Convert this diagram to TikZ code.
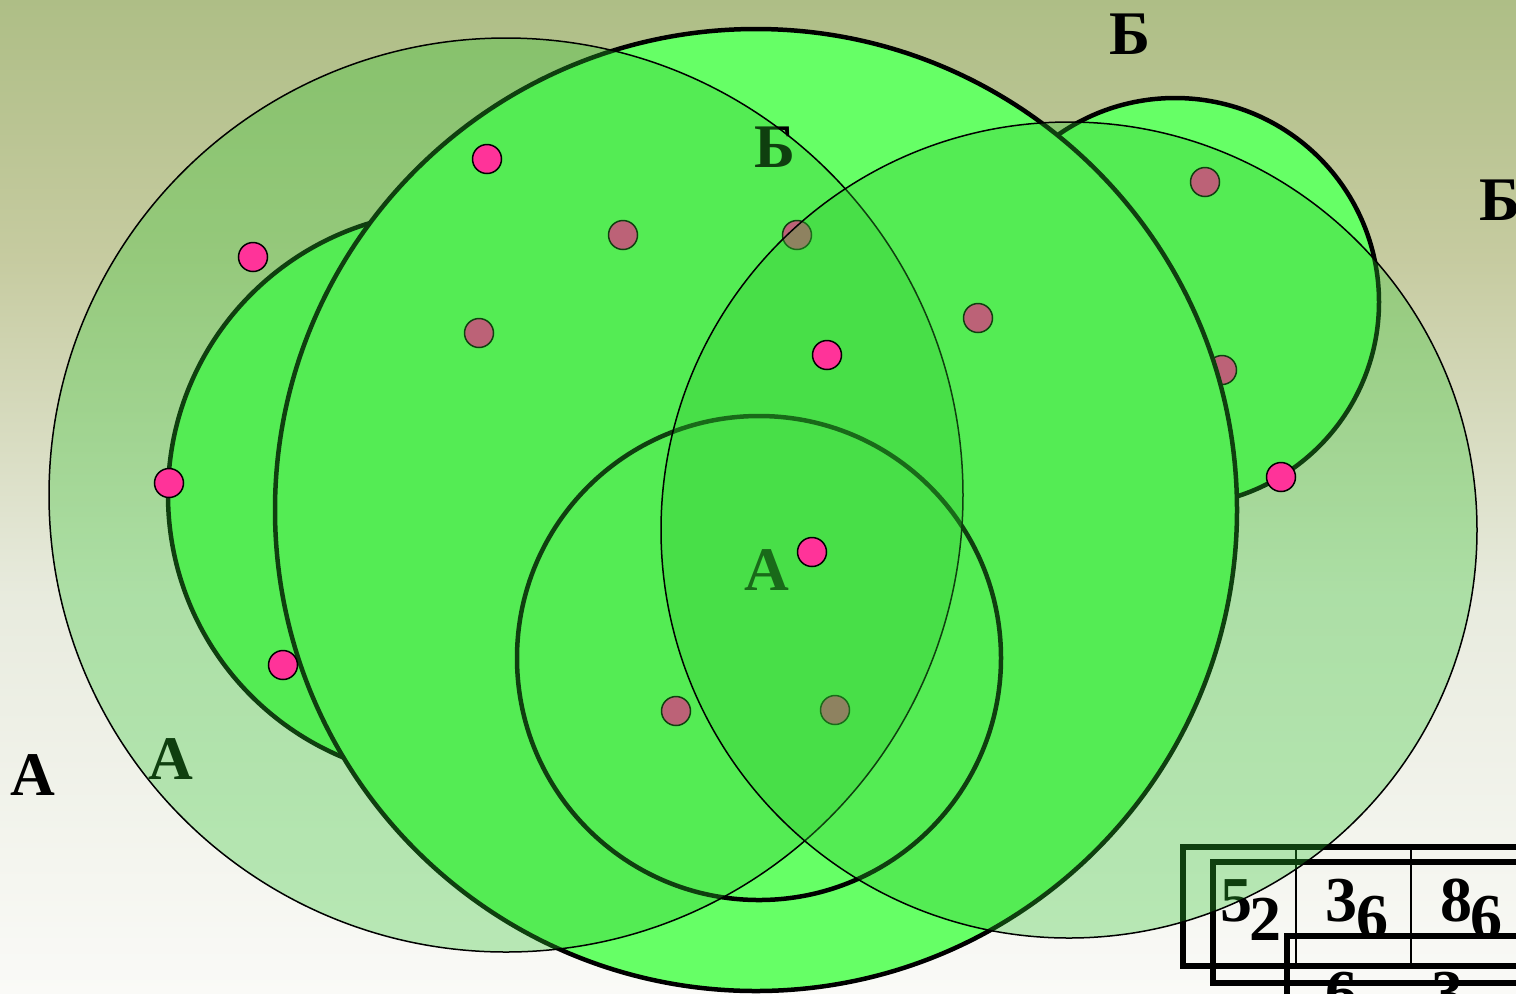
\documentclass[tikz,border=0pt]{standalone}
\usepackage{fontspec}
\setmainfont{Liberation Serif}
\usetikzlibrary{positioning}
\definecolor{bgtop}{RGB}{174,190,134}
\definecolor{bgmid}{RGB}{198,203,160}
\definecolor{bglow}{RGB}{232,235,222}
\definecolor{bgbot}{RGB}{250,250,247}
\definecolor{leafgreen}{RGB}{102,255,102}
\definecolor{veilgreen}{RGB}{48,198,48}
\definecolor{berry}{RGB}{255,51,153}
\pgfdeclareverticalshading{slidebg}{100bp}{color(0bp)=(bgbot); color(25bp)=(bgbot); color(45bp)=(bglow); color(62bp)=(bgmid); color(75bp)=(bgtop); color(100bp)=(bgtop)}
\tikzset{
    disc/.style={
        draw=black, line width=2.25pt, fill=leafgreen
    },
    veil/.style={
        draw=black, line width=0.75pt, fill=veilgreen, fill opacity=0.32
    },
    dot/.style={
        circle, draw=black, line width=0.75pt, fill=berry,
        minimum size=14.5pt, inner sep=0pt
    },
    lbl/.style={
        font=\bfseries\fontsize{31}{31}\selectfont, inner sep=0pt
    },
    digit/.style={
        font=\bfseries\fontsize{32}{32}\selectfont, inner sep=0pt
    },
    tabframe/.style={
        draw=black, line width=2.6pt
    },
    tabrule/.style={
        draw=black, line width=1.1pt
    }
}

\begin{document}
\begin{tikzpicture}[x=0.5pt, y=-0.5pt]
        % \draw[help lines, step=100] (0,0) grid (1516,993);
        \useasboundingbox (0,0) rectangle (1516,993);
        \shade[shading=slidebg] (0,0) rectangle (1516,993);

        % Solid circles

        \draw[disc] (452,495) circle[radius=284];
        \draw[disc] (1175,302) circle[radius=204];
        \node[dot] (p15) at (1222,370) {};
        \draw[disc] (756,510) circle[radius=481];
        \draw[disc] (759,658) circle[radius=242];

        % Points under the veils

        \node[dot] (p8)  at (623,235)  {};
        \node[dot] (p9)  at (479,333)  {};
        \node[dot] (p10) at (797,235)  {};
        \node[dot] (p11) at (978,318)  {};
        \node[dot] (p12) at (1205,182) {};
        \node[dot] (p13) at (676,711)  {};
        \node[dot] (p14) at (835,710)  {};

        % Labels

        \node[lbl] (a1) at (33,775)   {А};
        \node[lbl] (a2) at (171,759)  {А};
        \node[lbl] (a3) at (767,570)  {А};
        \node[lbl] (b1) at (1130,34)  {Б};
        \node[lbl] (b2) at (775,147)  {Б};
        \node[lbl] (b3) at (1500,200) {Б};

        % Tables

        \draw[tabframe] (1183,847) rectangle (1560,966);
        \draw[tabrule] (1296,847) -- (1296,966)
                (1411,847) -- (1411,966);
        \node[digit] (t11) at (1236,901) {5};
        \node[digit] (t12) at (1341,901) {3};
        \node[digit] (t13) at (1456,901) {8};

        \draw[tabframe] (1213,862) rectangle (1560,983);
        \node[digit] (t21) at (1265,919) {2};
        \node[digit] (t22) at (1372,918) {6};
        \node[digit] (t23) at (1486,918) {6};

        \draw[tabframe] (1560,936) -- (1287,936) -- (1287,1010);
        \node[digit] (t31) at (1341,994) {6};
        \node[digit] (t32) at (1447,994) {3};

        % Veils

        \draw[veil] (506,495) circle[radius=457];
        \draw[veil] (1069,530) circle[radius=408];

        % Points on top

        \node[dot] (p1) at (487,159)  {};
        \node[dot] (p2) at (253,257)  {};
        \node[dot] (p3) at (169,483)  {};
        \node[dot] (p4) at (283,665)  {};
        \node[dot] (p5) at (827,355)  {};
        \node[dot] (p6) at (812,552)  {};
        \node[dot] (p7) at (1281,477) {};
    \end{tikzpicture}
\end{document}
